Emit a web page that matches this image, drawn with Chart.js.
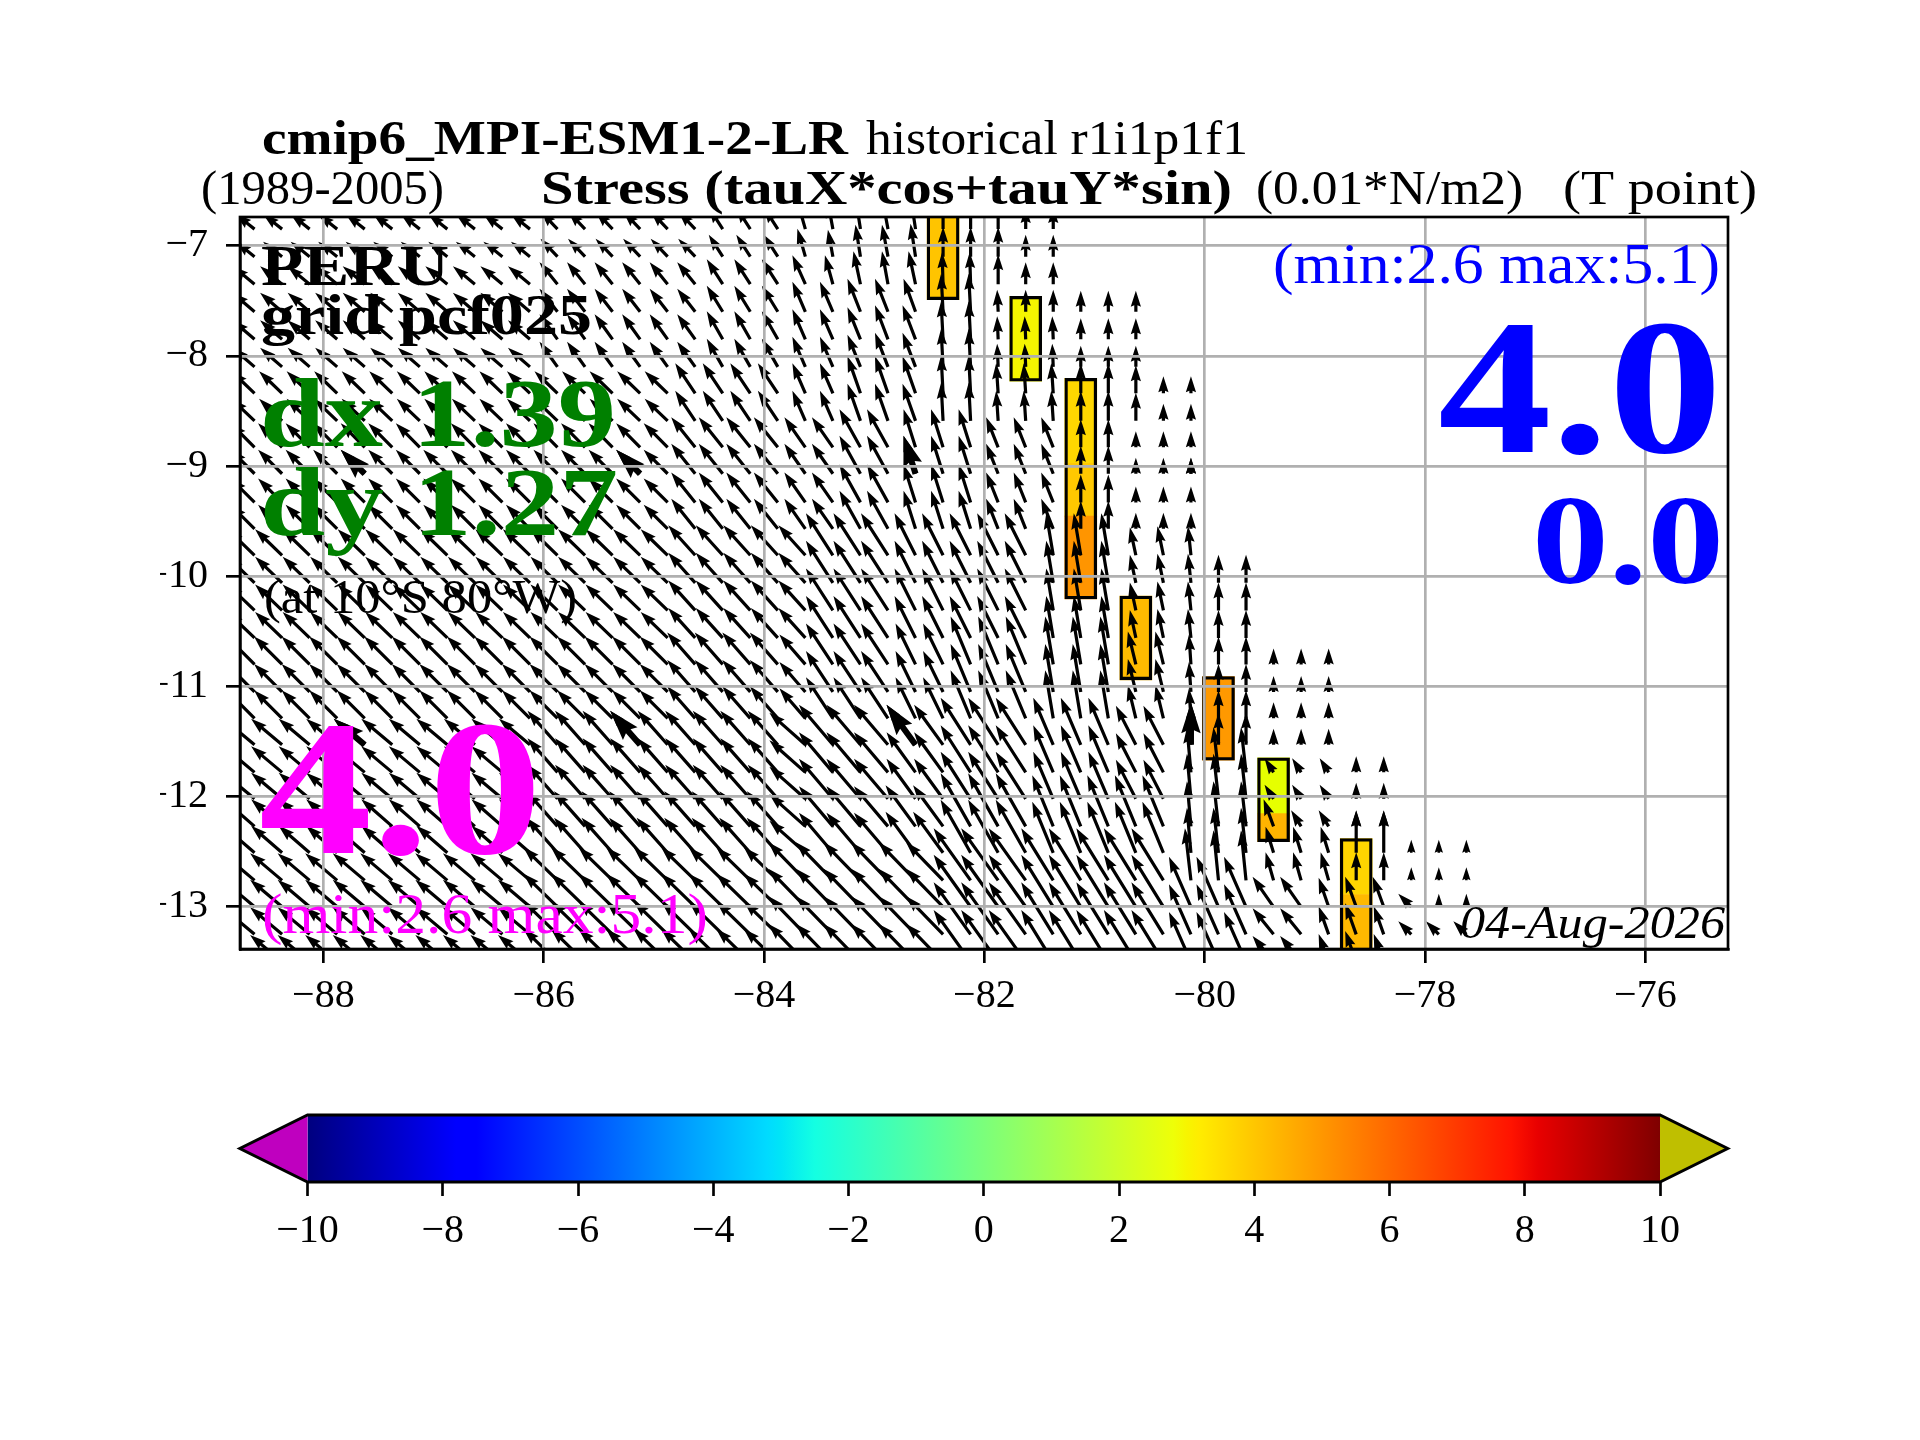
<!DOCTYPE html>
<html lang="en">
<head>
<meta charset="UTF-8">
<title>cmip6_MPI-ESM1-2-LR wind stress PERU</title>
<script src="https://cdn.jsdelivr.net/npm/chart.js"></script>
<style>
  body { margin: 0; background: #fff; }
  canvas { position: absolute; left: 0; }
  #quiverChart { top: 0; }
  #barChart { top: 1060px; }
</style>
</head>
<body>
<canvas id="quiverChart" width="1920" height="1440"></canvas>
<canvas id="barChart" width="1920" height="240"></canvas>
<script>
// axis ticks
const xTicks = [-88, -86, -84, -82, -80, -78, -76];
const yTicks = [-13, -12, -11, -10, -9, -8, -7];
const cbarTicks = [-10, -8, -6, -4, -2, 0, 2, 4, 6, 8, 10];

// arrow tails: longitude of each column, latitude of each row
const colLon = [-88.625,-88.375,-88.125,-87.875,-87.625,-87.375,-87.125,-86.875,-86.625,-86.375,-86.125,-85.875,-85.625,-85.375,-85.125,-84.875,-84.625,-84.375,-84.125,-83.875,-83.625,-83.375,-83.125,-82.875,-82.625,-82.375,-82.125,-81.875,-81.625,-81.375,-81.125,-80.875,-80.625,-80.375,-80.125,-79.875,-79.625,-79.375,-79.125,-78.875,-78.625,-78.375,-78.125,-77.875,-77.625];
const rowLat = [-6.85,-7.10,-7.35,-7.60,-7.85,-8.10,-8.34,-8.59,-8.83,-9.07,-9.33,-9.57,-9.81,-10.06,-10.31,-10.56,-10.80,-11.05,-11.29,-11.53,-11.78,-12.02,-12.27,-12.51,-12.76,-13.00,-13.25,-13.50];

// stress vector components, one list per group of rows
const uA = [-1.9,-1.9,-1.9,-1.9,-1.9,-1.9,-1.9,-1.9,-1.9,-1.9,-1.9,-1.7,-1.7,-1.7,-1.7,-1.7,-1.7,-1.4,-1.4,-1.4,-0.8,-0.5,-0.5,-0.6,-0.5,0,0,0,0,0];
const vA = [1.5,1.5,1.5,1.5,1.5,1.5,1.5,1.5,1.5,1.5,1.5,1.8,1.8,1.8,1.8,1.8,1.8,2.2,2.2,2.2,2.8,2.7,3.2,3.2,3.3,3.0,3.0,3.0,2.2,2.2];
const uB1 = [-2.2,-2.2,-2.2,-2.2,-2.2,-2.2,-2.2,-2.2,-2.2,-2.2,-2.2,-1.8,-1.8,-1.8,-1.8,-1.8,-1.8,-1.6,-1.6,-1.6,-1.3,-0.8,-0.7,-0.6,-0.7,-0.1,-0.1,0,0,0];
const vB1 = [1.8,1.8,1.8,1.8,1.8,1.8,1.8,1.8,1.8,1.8,1.8,2.2,2.2,2.2,2.2,2.2,2.2,2.5,2.5,2.5,2.9,2.9,3.3,3.3,3.3,3.2,3.2,3.0,2.2,2.2];
const uB2 = [-2.2,-2.2,-2.2,-2.2,-2.2,-2.2,-2.2,-2.2,-2.2,-2.2,-2.2,-1.8,-1.8,-1.8,-1.8,-1.8,-1.8,-1.6,-1.6,-1.6,-1.3,-1.3,-1.3,-1.3,-1.2,-0.2,-0.2,-0.1,0,0,0,0,0];
const vB2 = [1.9,1.9,1.9,1.9,1.9,1.9,1.9,1.9,1.9,1.9,1.9,2.3,2.3,2.3,2.3,2.3,2.3,2.6,2.6,2.6,3.0,3.0,3.3,3.3,3.3,3.8,3.8,2.2,2.2,2.2,2.1,2.1,2.1];
const uC = [-2.2,-2.2,-2.2,-2.2,-2.2,-2.2,-2.2,-2.2,-2.2,-2.2,-2.2,-1.8,-1.8,-1.8,-1.8,-1.8,-1.8,-1.6,-1.6,-1.6,-1.3,-1.3,-1.3,-1.3,-1.3,-0.2,-0.2,-0.1,-0.1,-0.1,0,0,0];
const vC = [1.9,1.9,1.9,1.9,1.9,1.9,1.9,1.9,1.9,1.9,1.9,2.5,2.5,2.5,2.5,2.5,2.5,2.8,2.8,2.8,3.0,3.0,3.2,3.4,3.4,3.8,3.8,2.3,2.3,2.3,2.1,2.1,2.1];
const uD = [-2.3,-2.3,-2.3,-2.3,-2.3,-2.3,-2.3,-2.3,-2.3,-2.3,-2.3,-2.3,-2.3,-2.3,-2.3,-2.3,-2.0,-2.0,-2.0,-2.0,-1.3,-1.3,-1.3,-1.3,-1.3,-0.2,-0.2,-0.2,-0.2,-0.2,0,0,0,0,0];
const vD = [2.2,2.2,2.2,2.2,2.2,2.2,2.2,2.2,2.2,2.2,2.2,2.2,2.2,2.2,2.2,2.2,3.0,3.0,3.0,3.0,3.0,3.0,3.7,3.7,3.7,3.8,3.8,3.0,3.0,3.0,3.0,3.0,2.8,1.7,1.7];
const uE = [-2.4,-2.4,-2.4,-2.4,-2.4,-2.4,-2.4,-2.4,-2.4,-2.4,-2.4,-2.4,-2.4,-2.4,-2.4,-2.4,-2.4,-2.4,-2.4,-2.4,-2.1,-2.1,-2.1,-2.1,-1.2,-1.2,-1.2,-1.2,-1.2,-1.2,0,0,0,0,0];
const vE = [2.4,2.4,2.4,2.4,2.4,2.4,2.4,2.4,2.4,2.4,2.4,2.4,2.4,2.4,2.4,2.4,3.0,3.0,3.0,3.0,3.0,3.0,3.8,3.8,3.8,3.8,3.8,3.0,3.0,3.0,2.8,2.8,1.6,1.6,1.6];
const uF = [-2.7,-2.7,-2.7,-2.7,-2.7,-2.7,-2.7,-2.7,-2.7,-2.7,-2.7,-2.7,-2.7,-2.7,-2.7,-2.7,-2.7,-2.7,-2.7,-2.7,-2.7,-2.7,-2.7,-2.7,-2.1,-2.1,-2.1,-2.1,-2.1,-0.7,-0.7,-0.7,-0.6,-0.6,-0.3,0,0];
const vF = [2.6,2.6,2.6,2.6,2.6,2.6,2.6,2.6,2.6,2.6,2.6,2.6,2.6,2.6,2.6,2.6,3.0,3.0,3.0,3.0,3.0,4.2,4.2,4.2,4.2,4.2,4.2,4.2,4.2,4.2,4.2,4.2,2.8,2.9,2.9,2.8,2.8];
const uG = [-2.8,-2.8,-2.8,-2.8,-2.8,-2.8,-2.8,-2.8,-2.8,-2.8,-2.8,-2.8,-2.8,-2.8,-2.8,-2.8,-2.8,-2.8,-2.8,-2.8,-2.6,-2.7,-2.7,-2.7,-2.0,-2.0,-2.0,-2.0,-2.0,-0.8,-0.8,-0.8,-0.8,-0.8,-0.2,0,0,0,0,0];
const vG = [2.8,2.8,2.8,2.8,2.8,2.8,2.8,2.8,2.8,2.8,2.8,2.8,2.8,2.8,2.8,2.8,3.2,3.2,3.2,3.2,3.0,4.1,4.1,4.1,4.1,4.1,4.8,4.8,4.8,4.8,4.8,4.8,3.3,3.3,3.0,2.8,2.8,1.6,1.6,1.6];
const uH18 = [-3.1,-3.1,-3.1,-3.1,-3.1,-3.1,-3.1,-3.1,-3.1,-3.1,-3.1,-3.0,-3.0,-3.0,-3.0,-3.0,-3.0,-3.0,-3.0,-3.0,-3.6,-3.4,-3.4,-3.4,-2.9,-2.9,-3.0,-3.0,-3.0,-2.0,-2.0,-2.0,-2.0,-2.0,0,0,0,0,0,0];
const vH18 = [2.6,2.6,2.6,2.6,2.6,2.6,2.6,2.6,2.6,2.6,2.6,3.4,3.4,3.4,3.4,3.4,3.4,3.4,3.4,3.4,3.2,4.0,4.0,4.0,4.0,4.0,4.7,4.7,4.7,4.7,4.7,4.7,3.9,3.9,4.2,3.2,3.2,1.6,1.6,1.6];
const uH19 = [-3.1,-3.1,-3.1,-3.1,-3.1,-3.1,-3.1,-3.1,-3.1,-3.1,-3.1,-3.0,-3.0,-3.0,-3.0,-3.0,-3.0,-3.0,-3.0,-3.0,-3.6,-3.4,-3.4,-3.4,-2.9,-2.9,-3.0,-3.0,-3.0,-2.0,-2.0,-2.0,-2.0,-2.0,-0.4,-0.5,-0.5,-0.9,-0.9,-0.9,0,0];
const vH19 = [2.6,2.6,2.6,2.6,2.6,2.6,2.6,2.6,2.6,2.6,2.6,3.4,3.4,3.4,3.4,3.4,3.4,3.4,3.4,3.4,3.2,4.0,4.0,4.0,4.0,4.0,4.7,4.7,4.7,4.7,4.7,4.7,3.9,3.9,4.5,4.5,4.5,1.4,1.4,1.4,1.6,1.6];
const uI21 = [-3.1,-3.1,-3.1,-3.1,-3.1,-3.1,-3.1,-3.1,-3.1,-3.1,-3.1,-3.1,-3.1,-3.1,-3.1,-3.1,-3.1,-3.1,-3.1,-3.1,-3.6,-3.4,-3.4,-3.4,-3.0,-3.0,-3.0,-3.0,-3.0,-2.1,-2.1,-2.1,-2.1,-2.1,-0.4,-0.5,-0.5,-1.0,-1.0,-1.0,0,0];
const vI21 = [2.7,2.7,2.7,2.7,2.7,2.7,2.7,2.7,2.7,2.7,2.7,3.5,3.5,3.5,3.5,3.5,3.5,3.5,3.5,3.5,3.2,4.0,4.0,4.0,4.1,4.1,5.3,5.3,5.3,5.1,5.1,5.1,5.1,5.1,4.5,4.5,4.5,2.7,1.6,1.6,1.6,1.6];
const uI22 = [-3.1,-3.1,-3.1,-3.1,-3.1,-3.1,-3.1,-3.1,-3.1,-3.1,-3.1,-3.1,-3.1,-3.1,-3.1,-3.1,-3.1,-3.1,-3.1,-3.1,-3.6,-3.4,-3.4,-3.4,-3.0,-3.0,-3.0,-3.0,-3.0,-2.1,-2.1,-2.1,-2.1,-2.1,-0.4,-0.5,-0.5,-0.8,-0.8,-0.8,0,0,0,0,0];
const vI22 = [2.7,2.7,2.7,2.7,2.7,2.7,2.7,2.7,2.7,2.7,2.7,3.5,3.5,3.5,3.5,3.5,3.5,3.5,3.5,3.5,3.2,4.0,4.0,4.0,4.1,4.1,5.3,5.3,5.3,5.1,5.1,5.1,5.1,5.1,4.5,4.5,4.5,2.6,2.6,2.6,4.2,4.2,1.3,1.3,1.3];
const uJ23 = [-3.2,-3.2,-3.2,-3.2,-3.2,-3.2,-3.2,-3.2,-3.2,-3.2,-3.2,-3.4,-3.4,-3.4,-3.4,-3.4,-3.4,-3.4,-3.4,-3.4,-3.7,-3.7,-3.7,-3.7,-3.7,-3.7,-3.7,-3.7,-3.7,-3.2,-3.2,-3.2,-3.2,-3.2,-0.6,-0.5,-0.5,-0.8,-0.8,-0.8,0,0,0,0,0];
const vJ23 = [2.7,2.7,2.7,2.7,2.7,2.7,2.7,2.7,2.7,2.7,2.7,3.3,3.3,3.3,3.3,3.3,3.3,3.3,3.3,3.3,3.8,3.8,3.8,3.8,3.8,3.8,5.2,5.2,5.2,5.2,5.2,5.2,5.2,5.2,5.2,5.0,5.0,2.8,2.8,2.8,2.8,2.8,1.3,1.3,1.3];
const uJ24 = [-3.2,-3.2,-3.2,-3.2,-3.2,-3.2,-3.2,-3.2,-3.2,-3.2,-3.2,-3.4,-3.4,-3.4,-3.4,-3.4,-3.4,-3.4,-3.4,-3.4,-3.7,-3.7,-3.7,-3.7,-3.7,-3.7,-3.7,-3.7,-3.7,-3.2,-3.2,-3.2,-3.2,-3.2,-2.2,-2.2,-2.2,-2.1,-2.1,-1.0,-1.1,-1.1,-1.3,0,0];
const vJ24 = [2.7,2.7,2.7,2.7,2.7,2.7,2.7,2.7,2.7,2.7,2.7,3.3,3.3,3.3,3.3,3.3,3.3,3.3,3.3,3.3,3.8,3.8,3.8,3.8,3.8,3.8,5.2,5.2,5.2,5.2,5.2,5.2,5.2,5.2,5.0,5.0,5.0,3.0,3.0,2.9,3.0,3.0,1.3,1.3,1.3];
const uJ25 = [-3.2,-3.2,-3.2,-3.2,-3.2,-3.2,-3.2,-3.2,-3.2,-3.2,-3.2,-3.4,-3.4,-3.4,-3.4,-3.4,-3.4,-3.4,-3.4,-3.4,-3.7,-3.7,-3.7,-3.7,-3.7,-3.7,-3.7,-3.7,-3.7,-3.2,-3.2,-3.2,-3.2,-3.2,-2.2,-2.2,-2.2,-2.1,-2.1,-1.0,-1.1,-1.0,-1.3,-1.3,-1.3];
const vJ25 = [2.7,2.7,2.7,2.7,2.7,2.7,2.7,2.7,2.7,2.7,2.7,3.3,3.3,3.3,3.3,3.3,3.3,3.3,3.3,3.3,3.8,3.8,3.8,3.8,3.8,3.8,5.2,5.2,5.2,5.2,5.2,5.2,5.2,5.2,5.0,5.0,5.0,2.6,2.6,2.8,3.1,2.8,1.3,1.3,1.3];

// which list each row uses, top to bottom; rows stop at the coast
const rowU = [uA,uA,uB1,uB2,uC,uC,uD,uD,uE,uE,uE,uE,uF,uF,uF,uF,uG,uG,uG,uH18,uH19,uH19,uI21,uI22,uJ23,uJ24,uJ25,uJ25];
const rowV = [vA,vA,vB1,vB2,vC,vC,vD,vD,vE,vE,vE,vE,vF,vF,vF,vF,vG,vG,vG,vH18,vH19,vH19,vI21,vI22,vJ23,vJ24,vJ25,vJ25];
const rowColumns = [30,30,30,33,33,33,35,35,35,35,35,35,35,37,37,37,40,40,40,40,42,42,42,45,45,45,45,42];

// the sparser set of heavy arrows (row, column)
const heavyRows = [9,9,9,9,19,19,19,19];
const heavyCols = [4,14,24,34,4,14,24,34];

// coastal boxes, one entry per colour piece
const boxLon = [-82.375,-81.625,-81.125,-81.125,-81.125,-80.625,-79.875,-79.375,-79.375,-78.625,-78.625];
const boxTop = [-6.72,-7.46,-8.205,-8.975,-9.455,-10.18,-10.91,-11.647,-12.154,-12.38,-12.888];
const boxBottom = [-7.49,-8.23,-8.975,-9.455,-10.207,-10.94,-11.67,-12.154,-12.408,-12.888,-13.5];
const boxColors = ['#FFC400','#F5F500','#FFD700','#FFC800','#FF9500','#FFBB00','#FF9900','#E6FF00','#FFB400','#FFD500','#FFB900'];
// outline of each whole box
const outlineLon = [-82.375,-81.625,-81.125,-80.625,-79.875,-79.375,-78.625];
const outlineTop = [-6.72,-7.46,-8.205,-10.18,-10.91,-11.647,-12.38];
const outlineBottom = [-7.49,-8.23,-10.207,-10.94,-11.67,-12.408,-13.5];

// jet colour stops for the colour bar
const jetStops = [0,0.11,0.125,0.34,0.35,0.375,0.5,0.64,0.65,0.66,0.89,0.91,1];
const jetColors = ['#00007F','#0000FF','#0000FF','#00DBFF','#00E5F7','#14FFE2','#7BFF7B','#EEFF08','#F7F500','#FFEC00','#FF1300','#E80000','#7F0000'];

const FONT = '"Liberation Serif"';
const PT = 3.2; // shaft width of an arrow in pixels
const PX_PER_UNIT = 10;

// text: string, left, right, baseline, font
const labels = [
  ['cmip6_MPI-ESM1-2-LR', 262, 848, 154, 'bold 48px ' + FONT, '#000'],
  ['historical r1i1p1f1', 866, 1248, 154, '48px ' + FONT, '#000'],
  ['(1989-2005)', 201, 444, 204, '48px ' + FONT, '#000'],
  ['Stress (tauX*cos+tauY*sin)', 541, 1232, 204, 'bold 48px ' + FONT, '#000'],
  ['(0.01*N/m2)', 1256, 1523, 204, '48px ' + FONT, '#000'],
  ['(T point)', 1563, 1757, 204, '48px ' + FONT, '#000'],
  ['PERU', 261, 449, 285, 'bold 58px ' + FONT, '#000'],
  ['grid pcf025', 261, 592, 334, 'bold 58px ' + FONT, '#000'],
  ['dx 1.39', 260, 616, 446, 'bold 98px ' + FONT, '#008000'],
  ['dy 1.27', 260, 618, 535, 'bold 98px ' + FONT, '#008000'],
  ['(at 10°S 80°W)', 264, 577, 613, '48px ' + FONT, '#000'],
  ['4.0', 259, 542, 853, 'bold 192px ' + FONT, '#FF00FF'],
  ['(min:2.6 max:5.1)', 262, 708, 933, '58px ' + FONT, '#FF00FF'],
  ['(min:2.6 max:5.1)', 1273, 1720, 283, '58px ' + FONT, '#0000FF'],
  ['4.0', 1438, 1722, 452, 'bold 192px ' + FONT, '#0000FF'],
  ['0.0', 1532, 1724, 583, 'bold 127px ' + FONT, '#0000FF'],
  ['04-Aug-2026', 1460, 1725, 938, 'italic 46px ' + FONT, '#000']
];

function arrowPath(ctx, x, y, u, v, w) {
  const len = Math.hypot(u, v) * PX_PER_UNIT;
  if (len === 0) return;
  const hl = 5 * w, ha = 4.5 * w, hw = 1.6 * w, sw = 0.5 * w;
  const full = Math.max(len, hl);
  const k = len / full;
  const a = Math.atan2(-v, u);
  const shape = [[0,-sw],[full-ha,-sw],[full-hl,-hw],[full,0],[full-hl,hw],[full-ha,sw],[0,sw]];
  ctx.beginPath();
  shape.forEach(function(p, i) {
    const px = p[0] * k, py = p[1] * k;
    const sx = x + px * Math.cos(a) - py * Math.sin(a);
    const sy = y + px * Math.sin(a) + py * Math.cos(a);
    if (i === 0) ctx.moveTo(sx, sy); else ctx.lineTo(sx, sy);
  });
  ctx.closePath();
  ctx.fill();
}

const quiverPlugin = {
  id: 'quiver',
  afterDatasetsDraw(chart) {
    const ctx = chart.ctx, area = chart.chartArea;
    ctx.save();
    ctx.beginPath();
    ctx.rect(area.left, area.top, area.right - area.left, area.bottom - area.top);
    ctx.clip();
    ctx.fillStyle = '#000';
    chart.data.datasets.forEach(function(ds, i) {
      if (!ds.arrowWidth) return;
      const points = chart.getDatasetMeta(i).data;
      points.forEach(function(pt, n) {
        arrowPath(ctx, pt.x, pt.y, ds.data[n].u, ds.data[n].v, ds.arrowWidth);
      });
    });
    ctx.restore();
  }
};

const framePlugin = {
  id: 'frameAndText',
  afterDraw(chart) {
    const ctx = chart.ctx, area = chart.chartArea;
    ctx.save();
    ctx.strokeStyle = '#000';
    ctx.lineWidth = 2.67;
    ctx.strokeRect(area.left, area.top, area.right - area.left, area.bottom - area.top);
    ctx.textBaseline = 'alphabetic';
    labels.forEach(function(t) {
      ctx.save();
      ctx.font = t[4];
      ctx.fillStyle = t[5];
      const natural = ctx.measureText(t[0]).width;
      ctx.translate(t[1], t[3]);
      ctx.scale((t[2] - t[1]) / natural, 1);
      ctx.fillText(t[0], 0, 0);
      ctx.restore();
    });
    ctx.restore();
  }
};

const arrowPoints = [];
rowLat.forEach(function(lat, r) {
  for (let c = 0; c < rowColumns[r]; c++) {
    arrowPoints.push({x: colLon[c], y: lat, u: rowU[r][c], v: rowV[r][c]});
  }
});
const heavyPoints = heavyRows.map(function(r, i) {
  const c = heavyCols[i];
  return {x: colLon[c], y: rowLat[r], u: rowU[r][c], v: rowV[r][c]};
});

function minusTick(value) {
  return String(value).replace('-', '\u2212');
}

function axis(min, max, ticks, thickness, isX) {
  return {
    type: 'linear',
    min: min,
    max: max,
    offset: false,
    afterBuildTicks(scale) { scale.ticks = ticks.map(v => ({value: v})); },
    afterFit(scale) { if (isX) scale.height = thickness; else scale.width = thickness; },
    grid: {color: '#B0B0B0', lineWidth: 2.67, z: 1, offset: false, tickColor: '#000', tickWidth: 2.67, tickLength: 14},
    border: {color: '#000', width: 2.67, z: 2},
    ticks: {
      color: '#000',
      padding: isX ? 9 : 18,
      maxRotation: 0,
      autoSkip: false,
      font: {family: 'Liberation Serif', size: 40},
      callback: minusTick
    }
  };
}

new Chart(document.getElementById('quiverChart'), {
  type: 'scatter',
  data: {
    datasets: [
      {label: 'heavy arrows', data: heavyPoints, arrowWidth: PT * 1.9, pointRadius: 0},
      {label: 'arrows', data: arrowPoints, arrowWidth: PT, pointRadius: 0},
      {
        type: 'bar',
        label: 'box outline',
        data: outlineLon.map((x, i) => ({x: x, y: [outlineBottom[i], outlineTop[i]]})),
        backgroundColor: 'rgba(0,0,0,0)',
        borderColor: '#000',
        borderWidth: 2.6,
        borderSkipped: false,
        barThickness: 32,
        grouped: false
      },
      {
        type: 'bar',
        label: 'boxes',
        data: boxLon.map((x, i) => ({x: x, y: [boxBottom[i], boxTop[i]]})),
        backgroundColor: boxColors,
        borderWidth: 0,
        barThickness: 32,
        grouped: false
      }
    ]
  },
  options: {
    responsive: false,
    animation: false,
    devicePixelRatio: 1,
    layout: {padding: {left: 160, right: 192, top: 217, bottom: 411}},
    plugins: {legend: {display: false}, tooltip: {enabled: false}},
    scales: {
      x: axis(-88.757, -75.25, xTicks, 80, true),
      y: axis(-13.383, -6.74, yTicks, 80, false)
    }
  },
  plugins: [quiverPlugin, framePlugin]
});

// colour bar
const extendPlugin = {
  id: 'extend',
  afterDatasetsDraw(chart) {
    const ctx = chart.ctx, area = chart.chartArea, xs = chart.scales.x;
    const midY = (area.top + area.bottom) / 2;
    const tipL = xs.getPixelForValue(-11), tipR = xs.getPixelForValue(11);
    ctx.save();
    ctx.fillStyle = '#BF00BF';
    ctx.beginPath();
    ctx.moveTo(area.left, area.top); ctx.lineTo(tipL, midY); ctx.lineTo(area.left, area.bottom);
    ctx.closePath(); ctx.fill();
    ctx.fillStyle = '#BFBF00';
    ctx.beginPath();
    ctx.moveTo(area.right, area.top); ctx.lineTo(tipR, midY); ctx.lineTo(area.right, area.bottom);
    ctx.closePath(); ctx.fill();
    ctx.strokeStyle = '#000';
    ctx.lineWidth = 3;
    ctx.beginPath();
    ctx.moveTo(area.left, area.top); ctx.lineTo(area.right, area.top); ctx.lineTo(tipR, midY);
    ctx.lineTo(area.right, area.bottom); ctx.lineTo(area.left, area.bottom); ctx.lineTo(tipL, midY);
    ctx.closePath(); ctx.stroke();
    ctx.restore();
  }
};

new Chart(document.getElementById('barChart'), {
  type: 'bar',
  data: {
    labels: ['stress'],
    datasets: [{
      data: [[-10, 10]],
      barPercentage: 1,
      categoryPercentage: 1,
      borderWidth: 0,
      backgroundColor(context) {
        const area = context.chart.chartArea;
        if (!area) return '#000';
        const g = context.chart.ctx.createLinearGradient(area.left, 0, area.right, 0);
        jetStops.forEach((s, i) => g.addColorStop(s, jetColors[i]));
        return g;
      }
    }]
  },
  options: {
    indexAxis: 'y',
    responsive: false,
    animation: false,
    devicePixelRatio: 1,
    layout: {padding: {left: 307.5, right: 260, top: 55, bottom: 0}},
    plugins: {legend: {display: false}, tooltip: {enabled: false}},
    scales: {
      x: {
        type: 'linear',
        min: -10,
        max: 10,
        afterBuildTicks(scale) { scale.ticks = cbarTicks.map(v => ({value: v})); },
        afterFit(scale) { scale.height = 118; },
        grid: {drawOnChartArea: false, tickColor: '#000', tickWidth: 2.67, tickLength: 14},
        border: {display: false},
        ticks: {color: '#000', padding: 11, maxRotation: 0, autoSkip: false,
                font: {family: 'Liberation Serif', size: 40}, callback: minusTick}
      },
      y: {display: false}
    }
  },
  plugins: [extendPlugin]
});
</script>
</body>
</html>
